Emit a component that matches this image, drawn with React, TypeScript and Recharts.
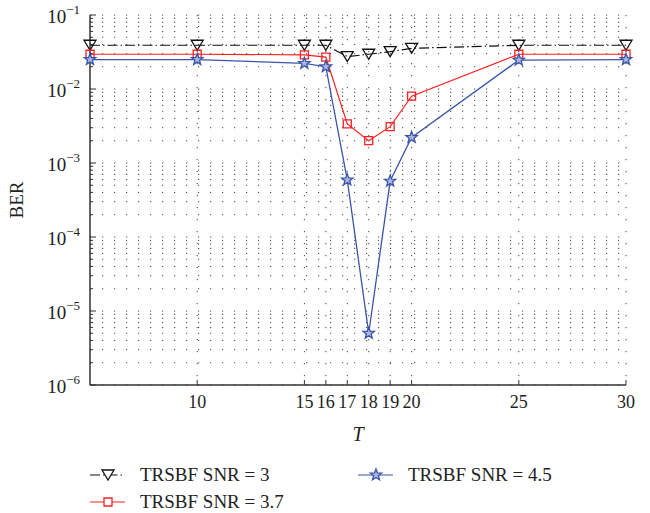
import React from 'react';
import { LineChart, Line, XAxis, YAxis, CartesianGrid } from 'recharts';

const T = [5, 10, 15, 16, 17, 18, 19, 20, 25, 30];
const berSnr3 = [0.039, 0.039, 0.039, 0.039, 0.0274, 0.0295, 0.032, 0.0355, 0.039, 0.039];
const berSnr37 = [0.0295, 0.0295, 0.029, 0.027, 0.00337, 0.002, 0.0031, 0.008, 0.0295, 0.0295];
const berSnr45 = [0.025, 0.025, 0.0222, 0.020, 0.00059, 0.000005, 0.00057, 0.00222, 0.0246, 0.025];

const xTicks = [10, 15, 16, 17, 18, 19, 20, 25, 30];
const yMajor = [1e-6, 1e-5, 1e-4, 1e-3, 1e-2, 1e-1];
const yExp = [-6, -5, -4, -3, -2, -1];

const yAll: number[] = [];
for (let e = -6; e <= -2; e++) {
  for (let m = 1; m <= 9; m++) yAll.push(m * Math.pow(10, e));
}
yAll.push(1e-1);

const data = T.map((t, i) => ({ t, s3: berSnr3[i], s37: berSnr37[i], s45: berSnr45[i] }));

const FONT = "'Liberation Serif', 'Times New Roman', serif";
const BLUE = '#3a55a8';
const RED = '#ff2020';
const DASH = '10 3 1.5 3';

const triPath = (cx: number, cy: number) =>
  `M${cx - 6},${cy - 5}L${cx + 6},${cy - 5}L${cx},${cy + 5}Z`;
const sqPath = (cx: number, cy: number) =>
  `M${cx - 4},${cy - 4}L${cx + 4},${cy - 4}L${cx + 4},${cy + 4}L${cx - 4},${cy + 4}Z`;
const starPath = (cx: number, cy: number) => {
  const pts: string[] = [];
  for (let i = 0; i < 10; i++) {
    const r = i % 2 === 0 ? 6 : 2.5;
    const a = -Math.PI / 2 + (i * Math.PI) / 5;
    pts.push(`${(cx + r * Math.cos(a)).toFixed(2)},${(cy + r * Math.sin(a)).toFixed(2)}`);
  }
  return 'M' + pts.join('L') + 'Z';
};

const TriDot = (p: any) =>
  p.cx == null ? <g key={p.index} /> : (
    <path key={p.index} d={triPath(p.cx, p.cy)} fill="none" stroke="#111" strokeWidth={1.3} />
  );
const SqDot = (p: any) =>
  p.cx == null ? <g key={p.index} /> : (
    <path key={p.index} d={sqPath(p.cx, p.cy)} fill="none" stroke={RED} strokeWidth={1.3} />
  );
const StarDot = (p: any) =>
  p.cx == null ? <g key={p.index} /> : (
    <path key={p.index} d={starPath(p.cx, p.cy)} fill="#aab8e0" stroke={BLUE} strokeWidth={1.3} />
  );

const txtStyle = { fontFamily: FONT, fill: '#222' };

const YLeftTick = (p: any) => {
  const v = p.payload.value;
  const idx = yMajor.findIndex((m) => Math.abs(Math.log10(m) - Math.log10(v)) < 1e-6);
  const ax = p.x + 10;
  const isMajor = idx >= 0;
  return (
    <g>
      <line x1={ax} x2={ax + (isMajor ? 6 : 3)} y1={p.y} y2={p.y} stroke="#333" strokeWidth={1} />
      {isMajor && (
        <text x={p.x} y={p.y + 8} textAnchor="end" style={{ ...txtStyle, fontSize: 19 }}>
          <tspan>10</tspan>
          <tspan dy={-9} style={{ fontSize: 13 }}>{'\u2212' + Math.abs(yExp[idx])}</tspan>
        </text>
      )}
    </g>
  );
};

const YRightTick = (p: any) => {
  const v = p.payload.value;
  const isMajor = yMajor.some((m) => Math.abs(Math.log10(m) - Math.log10(v)) < 1e-6);
  const ax = p.x - 10;
  return <line x1={ax} x2={ax - (isMajor ? 6 : 3)} y1={p.y} y2={p.y} stroke="#333" strokeWidth={1} />;
};

const XBottomTick = (p: any) => (
  <g>
    <line x1={p.x} x2={p.x} y1={p.y} y2={p.y - 5} stroke="#333" strokeWidth={1} />
    <text x={p.x} y={p.y + 23} textAnchor="middle" style={{ ...txtStyle, fontSize: 18 }}>
      {p.payload.value}
    </text>
  </g>
);

const XTopTick = (p: any) => (
  <line x1={p.x} x2={p.x} y1={p.y} y2={p.y + 5} stroke="#333" strokeWidth={1} />
);

const legendItems = [
  { label: 'TRSBF SNR = 3', color: '#111', dash: DASH, marker: 'tri', x: 90, y: 475 },
  { label: 'TRSBF SNR = 4.5', color: BLUE, dash: undefined, marker: 'star', x: 358, y: 475 },
  { label: 'TRSBF SNR = 3.7', color: RED, dash: undefined, marker: 'sq', x: 90, y: 502 },
];

const LegendBox = () => (
  <svg width={650} height={513} style={{ position: 'absolute', left: 0, top: 0, pointerEvents: 'none' }}>
    {legendItems.map((it) => {
      const mx = it.x + 18;
      return (
        <g key={it.label}>
          <line x1={it.x} x2={it.x + 35} y1={it.y} y2={it.y} stroke={it.color} strokeWidth={1.2} strokeDasharray={it.dash} />
          {it.marker === 'tri' && <path d={triPath(mx, it.y)} fill="#fff" stroke="#111" strokeWidth={1.3} />}
          {it.marker === 'sq' && <path d={sqPath(mx, it.y)} fill="#fff" stroke={RED} strokeWidth={1.3} />}
          {it.marker === 'star' && <path d={starPath(mx, it.y)} fill="#aab8e0" stroke={BLUE} strokeWidth={1.3} />}
          <text x={it.x + 50} y={it.y + 6} style={{ ...txtStyle, fontSize: 19 }}>
            {it.label}
          </text>
        </g>
      );
    })}
  </svg>
);

export default function App() {
  return (
    <div style={{ position: 'absolute', left: 0, top: 0, width: 650, height: 513, background: '#fff' }}>
      <LineChart width={650} height={513} data={data} margin={{ top: 15, right: 24, bottom: 68, left: 0 }}>
        <CartesianGrid
          horizontalValues={yAll}
          verticalValues={xTicks}
          stroke="#444"
          strokeDasharray="1.2 10.8"
          strokeWidth={1}
        />
        <XAxis
          dataKey="t"
          type="number"
          domain={[5, 30]}
          ticks={xTicks}
          interval={0}
          height={60}
          tickSize={0}
          tickMargin={0}
          tickLine={false}
          tick={<XBottomTick />}
          axisLine={{ stroke: '#333', strokeWidth: 1.5 }}
          label={{ value: 'T', position: 'insideBottom', offset: 4, style: { fontFamily: FONT, fontSize: 20, fontStyle: 'italic', fill: '#222' } }}
        />
        <XAxis
          xAxisId="top"
          orientation="top"
          dataKey="t"
          type="number"
          domain={[5, 30]}
          ticks={xTicks}
          interval={0}
          height={0}
          tickSize={0}
          tickMargin={0}
          tickLine={false}
          tick={<XTopTick />}
          axisLine={{ stroke: '#333', strokeWidth: 1.5 }}
        />
        <YAxis
          scale="log"
          domain={[1e-6, 1e-1]}
          allowDataOverflow
          ticks={yAll}
          interval={0}
          width={90}
          tickSize={0}
          tickMargin={10}
          tickLine={false}
          tick={<YLeftTick />}
          axisLine={{ stroke: '#333', strokeWidth: 1.5 }}
          label={{ value: 'BER', angle: -90, position: 'insideLeft', offset: 16, style: { fontFamily: FONT, fontSize: 19, fill: '#222', textAnchor: 'middle' } }}
        />
        <YAxis
          yAxisId="r"
          orientation="right"
          scale="log"
          domain={[1e-6, 1e-1]}
          allowDataOverflow
          ticks={yAll}
          interval={0}
          width={0}
          tickSize={0}
          tickMargin={10}
          tickLine={false}
          tick={<YRightTick />}
          axisLine={{ stroke: '#333', strokeWidth: 1.5 }}
        />
        <Line dataKey="s3" stroke="#111" strokeWidth={1.2} strokeDasharray={DASH} dot={TriDot} isAnimationActive={false} />
        <Line dataKey="s37" stroke={RED} strokeWidth={1.2} dot={SqDot} isAnimationActive={false} />
        <Line dataKey="s45" stroke={BLUE} strokeWidth={1.3} dot={StarDot} isAnimationActive={false} />
      </LineChart>
      <LegendBox />
    </div>
  );
}
